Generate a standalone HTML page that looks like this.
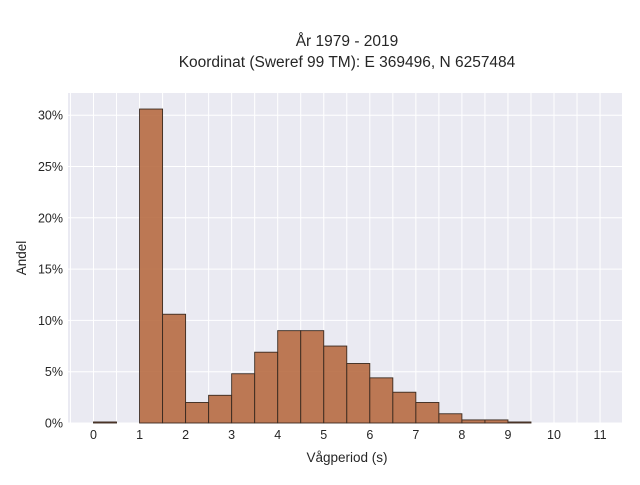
<!DOCTYPE html>
<html><head><meta charset="utf-8">
<style>
body{margin:0;background:#fff;font-family:"Liberation Sans",sans-serif;}
svg text{font-family:"Liberation Sans",sans-serif;fill:#262626;}
</style></head>
<body>
<svg width="640" height="480" xmlns="http://www.w3.org/2000/svg">
<text x="347" y="46" text-anchor="middle" font-size="15.5">År 1979 - 2019</text>
<text x="347" y="67" text-anchor="middle" font-size="15.5">Koordinat (Sweref 99 TM): E 369496, N 6257484</text>
<rect x="68" y="93" width="554" height="330" fill="#eaeaf2"/>
<g id="grid"></g>
<g id="bars"></g>
<g id="ticks"></g>
<text x="347" y="462" text-anchor="middle" font-size="13.5">Vågperiod (s)</text>
<text transform="translate(26,258) rotate(-90)" text-anchor="middle" font-size="13.5">Andel</text>
</svg>
<script>
const binStarts=[0,1,1.5,2,2.5,3,3.5,4,4.5,5,5.5,6,6.5,7,7.5,8,8.5,9];
const shares=[0.1,30.6,10.6,2.0,2.7,4.8,6.9,9.0,9.0,7.5,5.8,4.4,3.0,2.0,0.9,0.3,0.3,0.1];
const xTicks=[0,1,2,3,4,5,6,7,8,9,10,11];
const yTicks=[0,5,10,15,20,25,30];
const binWidth=0.5;
const NS="http://www.w3.org/2000/svg";
const xs=v=>93.5+v*46.05;
const ys=v=>423-v*10.26;
const grid=document.getElementById('grid'),bars=document.getElementById('bars'),ticks=document.getElementById('ticks');
function mk(tag,attrs,parent){const e=document.createElementNS(NS,tag);for(const k in attrs)e.setAttribute(k,attrs[k]);parent.appendChild(e);return e;}
for(let v=-0.5;v<=11.5;v+=0.5){const x=xs(v);if(x<68||x>622)continue;
 const l=mk('line',{x1:x,x2:x,y1:93,y2:423,stroke:'#fff','stroke-width':1},grid);
 
 }
for(const v of yTicks){const y=ys(v);
 const l=mk('line',{x1:68,x2:622,y1:y,y2:y,stroke:'#fff','stroke-width':1},grid);
 
 
 const t=mk('text',{x:63,y:y+4.5,'text-anchor':'end','font-size':12.5},ticks);t.textContent=v+'%';
 
 }
binStarts.forEach((s,i)=>{const x0=xs(s),x1=xs(s+binWidth),y=ys(shares[i]);
 const r=mk('rect',{x:x0,y:y,width:x1-x0,height:423-y,fill:'#b5683e','fill-opacity':0.88,stroke:'#3a2a20','stroke-width':0.9},bars);
 
 });
for(const v of xTicks){const t=mk('text',{x:xs(v),y:439,'text-anchor':'middle','font-size':12.5},ticks);t.textContent=v;
 
 }
</script>
</body></html>
